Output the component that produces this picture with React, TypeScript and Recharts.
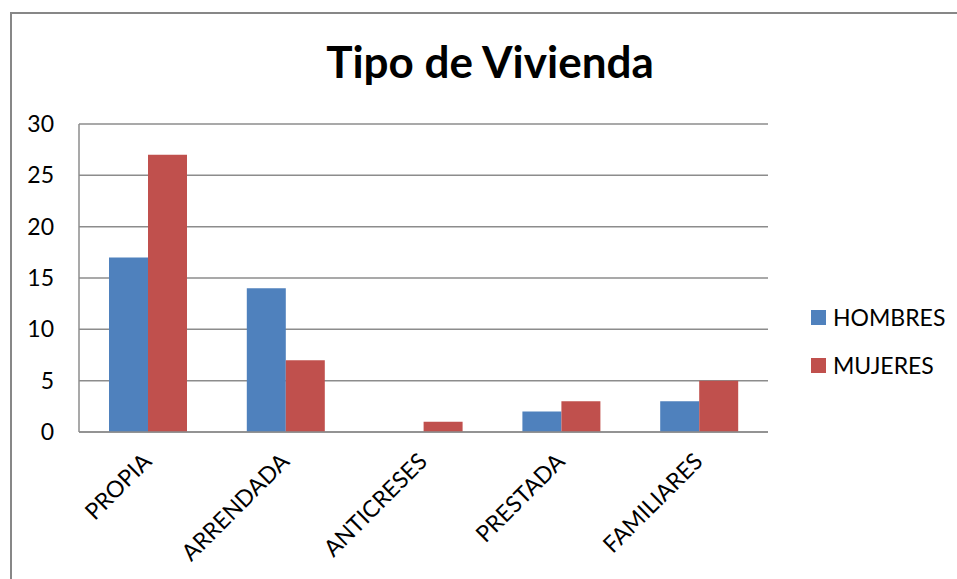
import React from "react";
import { BarChart, Bar, XAxis, YAxis, CartesianGrid, Legend } from "recharts";

// Tipo de Vivienda — grouped bars, Office 2007 palette
const CATEGORIES = ["PROPIA", "ARRENDADA", "ANTICRESES", "PRESTADA", "FAMILIARES"];
const HOMBRES = [17, 14, 0, 2, 3];
const MUJERES = [27, 7, 1, 3, 5];
const Y_TICKS = [0, 5, 10, 15, 20, 25, 30];

const SERIES = [
  { key: "hombres", label: "HOMBRES", color: "#4F81BD" },
  { key: "mujeres", label: "MUJERES", color: "#C0504D" },
];

const data = CATEGORIES.map((name, i) => ({ name, hombres: HOMBRES[i], mujeres: MUJERES[i] }));

const FONT = "Lato, 'Open Sans', sans-serif";
const GRID = "#8C8C8C";
const W = 957;
const H = 579;

function XTick({ x, y, payload }: { x: number; y: number; payload: { value: string } }) {
  return (
    <g transform={`translate(${x + 5},${y + 23})`}>
      <text textAnchor="end" transform="rotate(-45)" fontSize={23} fill="#000" fontFamily={FONT}>
        {payload.value}
      </text>
    </g>
  );
}

function LegendBox({ payload }: { payload?: { value: string; color: string }[] }) {
  return (
    <div style={{ fontFamily: FONT, fontSize: 23, color: "#000" }}>
      {(payload ?? []).map((p) => (
        <div key={p.value} style={{ display: "flex", alignItems: "center", height: 48 }}>
          <span style={{ width: 15, height: 15, background: p.color, marginRight: 7, display: "inline-block" }} />
          <span>{p.value}</span>
        </div>
      ))}
    </div>
  );
}

export default function App() {
  return (
    <div style={{ position: "relative", width: W, height: H, overflow: "hidden", background: "#fff" }}>
      <style>{`html,body{margin:0;padding:0;overflow:hidden}`}</style>
      <div style={{ position: "absolute", left: 10, top: 12, width: 1000, height: 700, borderTop: "2px solid #878787", borderLeft: "2px solid #878787" }} />
      <div style={{ position: "absolute", left: 190, width: 600, top: 35, textAlign: "center", fontFamily: FONT, fontWeight: 700, fontSize: 44, color: "#000" }}>
        Tipo de Vivienda
      </div>
      <div style={{ position: "absolute", left: 0, top: 0 }}>
        <BarChart width={W} height={H} data={data} margin={{ top: 124, right: 189, left: 19, bottom: 47 }} barGap={0} barSize={39}>
          <CartesianGrid vertical={false} stroke={GRID} strokeWidth={1.5} />
          <XAxis dataKey="name" interval={0} height={100} tickLine={false} axisLine={{ stroke: GRID, strokeWidth: 1.5 }} tick={XTick as any} />
          <YAxis domain={[0, 30]} ticks={Y_TICKS} width={60} tickLine={false} tickMargin={19}
            axisLine={{ stroke: GRID, strokeWidth: 1.5 }} tick={{ fontSize: 23, fill: "#000", fontFamily: FONT }} />
          <Legend layout="vertical" align="center" verticalAlign="middle" content={LegendBox as any}
            wrapperStyle={{ left: 811, top: 293, width: 146 }} />
          {SERIES.map((s) => (
            <Bar key={s.key} dataKey={s.key} name={s.label} fill={s.color} isAnimationActive={false} />
          ))}
        </BarChart>
      </div>
    </div>
  );
}
